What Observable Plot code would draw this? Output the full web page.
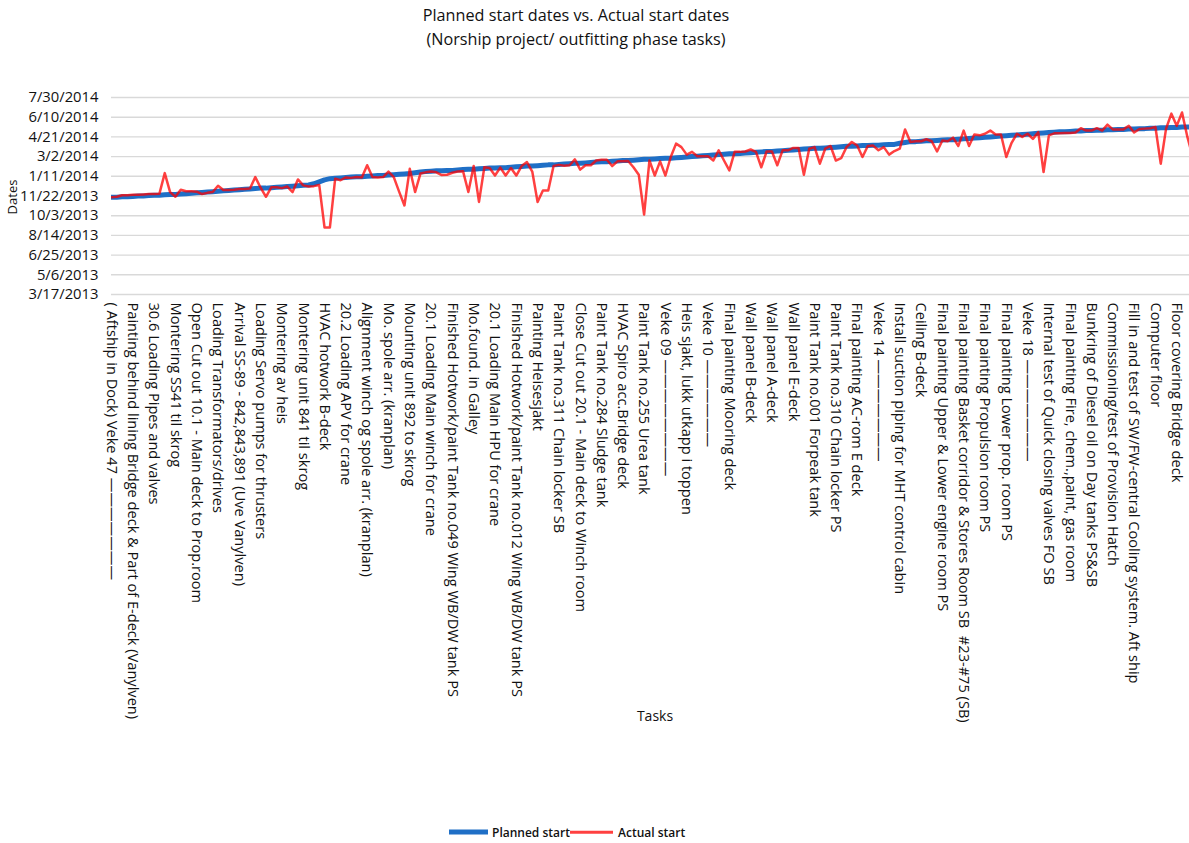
<!DOCTYPE html>
<html><head><meta charset="utf-8">
<script src="https://cdn.jsdelivr.net/npm/d3@7"></script>
<script src="https://cdn.jsdelivr.net/npm/@observablehq/plot@0.6"></script>
<style>
body{margin:0;background:#fff;font-family:"Open Sans",sans-serif;color:#111;}
#wrap{position:relative;width:1189px;height:843px;overflow:hidden;background:#fff;}
#title{position:absolute;left:0;top:3px;width:1152px;text-align:center;font-size:16.2px;line-height:24px;}
#chart{position:absolute;left:0;top:0;}
#ylab{position:absolute;left:12px;top:197px;transform:translate(-50%,-50%) rotate(-90deg);font-size:13px;white-space:nowrap;}
#xlab{position:absolute;left:655px;top:715px;transform:translate(-50%,-50%);font-size:14px;}
.lg{position:absolute;top:832px;}
.sw{transform:translateY(-50%);}
.lt{transform:translateY(-50%);font-size:12px;font-weight:600;white-space:nowrap;}
</style></head>
<body>
<div id="wrap">
  <div id="chart"></div>
  <div id="title">Planned start dates vs. Actual start dates<br>(Norship project/ outfitting phase tasks)</div>
  <div id="ylab">Dates</div>
  <div id="xlab">Tasks</div>
  <div id="legend"></div>
</div>
<script>
// y-axis tick labels (dates)
const yTickLabels = ["3/17/2013","5/6/2013","6/25/2013","8/14/2013","10/3/2013","11/22/2013","1/11/2014","3/2/2014","4/21/2014","6/10/2014","7/30/2014"];
// every 4th task name, as shown on the x axis
const taskLabels = [
 "( Aftship in Dock) Veke 47 ———————",
 "Painting behind lining Bridge deck & Part of E-deck (Vanylven)",
 "30.6 Loading Pipes and valves",
 "Montering SS41 til skrog",
 "Open Cut out 10.1 - Main deck to Prop.room",
 "Loading Transformators/drives",
 "Arrival SS-89 - 842,843,891 (Uve Vanylven)",
 "Loading Servo pumps for thrusters",
 "Montering av heis",
 "Montering unit 841 til skrog",
 "HVAC hotwork B-deck",
 "20.2 Loading APV for crane",
 "Alignment winch og spole arr. (kranplan)",
 "Mo. spole arr. (kranplan)",
 "Mounting unit 892 to skrog",
 "20.1 Loading Main winch for crane",
 "Finished Hotwork/paint Tank no.049 Wing WB/DW tank PS",
 "Mo.found. in Galley",
 "20.1 Loading Main HPU for crane",
 "Finished Hotwork/paint Tank no.012 Wing WB/DW tank PS",
 "Painting Heisesjakt",
 "Paint Tank no.311 Chain locker SB",
 "Close Cut out 20.1 - Main deck to Winch room",
 "Paint Tank no.284 Sludge tank",
 "HVAC Spiro acc.Bridge deck",
 "Paint Tank no.255 Urea tank",
 "Veke 09 ————————",
 "Heis sjakt, lukk utkapp i toppen",
 "Veke 10 ——————",
 "Final painting Mooring deck",
 "Wall panel B-deck",
 "Wall panel A-deck",
 "Wall panel E-deck",
 "Paint Tank no.001 Forpeak tank",
 "Paint Tank no.310 Chain locker PS",
 "Final painting AC-rom E deck",
 "Veke 14 ———————",
 "Install suction piping for MHT control cabin",
 "Ceiling B-deck",
 "Final painting Upper & Lower engine room PS",
 "Final painting Basket corridor & Stores Room SB  #23-#75 (SB)",
 "Final painting Propulsion room PS",
 "Final painting Lower prop. room PS",
 "Veke 18 ———————",
 "Internal test of Quick closing valves FO SB",
 "Final painting Fire, chem.,paint, gas room",
 "Bunkring of Diesel oil on Day tanks PS&SB",
 "Commissioning/test of Provision Hatch",
 "Fill in and test of SW/FW-central Cooling system. Aft ship",
 "Computer floor",
 "Floor covering Bridge deck"
];
const labelEvery = 4;
// start dates, as days after this base date
const baseDate = "11/22/2013";
const plannedDays = [
 -3,-3,-2,-2,-1,0,0,1,2,2, 3,4,4,5,6,7,8,9,10,11, 12,13,14,15,16,17,18,19,20,20,
 21,22,23,24,25,26,27,28,31,36, 41,44,45,46,47,48,49,49,50,51, 52,52,53,54,55,56,57,59,61,62,
 63,64,64,65,65,66,67,68,68,69, 70,71,71,72,72,73,74,75,76,76, 77,78,79,79,80,81,82,83,83,84,
 85,86,87,87,88,89,90,90,91,92, 93,93,94,95,96,96,97,98,99,100, 101,102,103,104,105,106,107,107,108,109,
 110,111,112,113,113,114,115,116,117,118, 119,120,121,121,122,123,124,125,126,126, 127,128,128,129,129,130,131,131,134,136,
 138,138,139,140,140,141,142,143,143,144, 145,146,147,148,149,150,151,152,153,154, 155,156,157,158,159,160,161,162,163,163,
 164,165,165,166,166,167,167,168,168,169, 169,170,170,171,171,172,172,173,173,174, 174,175,175,176
];
const actualDays = [
 -3,-2,2,2,3,3,4,5,5,6, 58,10,-2,16,12,12,11,5,8,10, 26,15,15,16,18,18,19,48,21,-2,
 22,22,20,24,10,42,27,24,25,28, -80,-80,44,40,47,46,48,47,78,48, 47,48,62,48,11,-24,69,10,57,60,
 62,60,53,54,59,62,63,10,76,-15, 73,71,52,72,52,71,52,76,86,62, -15,14,14,76,79,77,78,93,67,78,
 78,90,92,92,76,88,88,89,73,54, -47,90,52,88,52,99,133,124,105,112, 101,101,101,90,116,90,65,112,112,113,
 118,112,73,113,113,78,116,116,122,122, 54,120,124,82,120,127,90,96,124,137, 128,99,127,128,116,124,105,114,120,169,
 137,139,139,144,139,113,141,139,148,127, 166,127,156,154,158,166,156,156,99,135, 158,150,158,145,162,61,154,159,159,160,
 160,161,172,166,166,172,166,181,169,169, 169,178,161,170,171,172,175,82,171,209, 178,212,150,100
];
const seriesNames = ["Planned start", "Actual start"];
const seriesColors = ["#1f6fc6", "#ff0000"];

const parse = d3.utcParse("%m/%d/%Y");
const fmt = d3.utcFormat("%-m/%-d/%Y");
const base = parse(baseDate);
const toDate = d => d3.utcDay.offset(base, d);
const yTicks = yTickLabels.map(parse);
const rows = plannedDays.map((p, i) => ({i, planned: toDate(p), actual: toDate(actualDays[i])}));
const xTicks = taskLabels.map((_, k) => k * labelEvery);

const chart = Plot.plot({
  width: 1189, height: 760,
  marginTop: 97, marginBottom: 466, marginLeft: 111, marginRight: 0,
  style: {fontFamily: "Open Sans", fontSize: "13px", color: "#111", background: "transparent"},
  x: {type: "linear", domain: [0, 202.4], axis: null},
  y: {type: "utc", domain: [yTicks[0], yTicks[yTicks.length - 1]], axis: null},
  marks: [
    Plot.gridY(yTicks, {stroke: "#d9d9d9", strokeOpacity: 1, strokeWidth: 1.4}),
    Plot.axisY(yTicks, {tickSize: 0, tickPadding: 13, tickFormat: fmt, fontSize: 14.8, label: null}),
    Plot.axisX(xTicks, {tickSize: 0, tickRotate: 90, tickPadding: 8, tickFormat: i => taskLabels[i / labelEvery], label: null, fontSize: 14.6, textAnchor: "start"}),
    Plot.line(rows, {x: "i", y: "planned", stroke: seriesColors[0], strokeWidth: 5, clip: true}),
    Plot.line(rows, {x: "i", y: "actual", stroke: seriesColors[1], strokeOpacity: 0.75, strokeWidth: 2.5, clip: true})
  ]
});
document.getElementById("chart").append(chart);

const legend = document.getElementById("legend");
const lgItems = [
  {name: seriesNames[0], color: seriesColors[0], w: 5, op: 1, sx: 449, len: 39, tx: 492},
  {name: seriesNames[1], color: seriesColors[1], w: 2.5, op: 0.75, sx: 570, len: 43, tx: 618}
];
lgItems.forEach(o => {
  const sw = document.createElement("div");
  sw.className = "lg sw";
  sw.style.cssText = `left:${o.sx}px;width:${o.len}px;height:${o.w}px;background:${o.color};opacity:${o.op};`;
  const t = document.createElement("div");
  t.className = "lg lt";
  t.style.left = o.tx + "px";
  t.textContent = o.name;
  legend.append(sw, t);
});
</script>
</body></html>
